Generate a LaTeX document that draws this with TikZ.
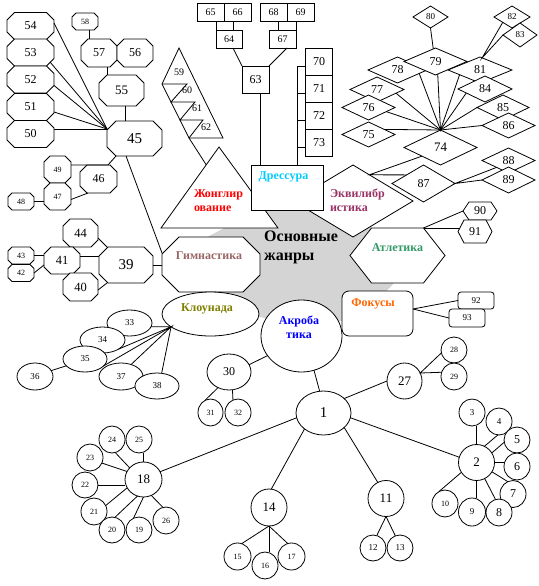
\documentclass[tikz,border=0pt]{standalone}
\usepackage{fontspec}
\setmainfont{Liberation Serif}
\usetikzlibrary{shapes.geometric,calc}
\definecolor{blob}{RGB}{212,212,212}
\definecolor{cJ}{RGB}{255,0,0}
\definecolor{cDr}{RGB}{0,204,255}
\definecolor{cEq}{RGB}{153,51,102}
\definecolor{cAt}{RGB}{51,153,102}
\definecolor{cGym}{RGB}{153,102,102}
\definecolor{cKl}{RGB}{128,128,0}
\definecolor{cAc}{RGB}{0,0,255}
\definecolor{cFo}{RGB}{255,102,0}
\newcommand\fz[1]{\fontsize{#1}{#1}\selectfont}
\tikzset{
  ln/.style={line width=0.8pt},
  shp/.style={draw, fill=white, line width=0.8pt, inner sep=0pt, outer sep=0pt},
  ell/.style={shp, ellipse},
  dia/.style={shp, diamond},
  box/.style={shp, rectangle},
  lbl/.style={inner sep=0pt, outer sep=0pt, font=\bfseries\fontsize{12}{14}\selectfont},
}
% name, x, y, w, h, chamfer, font, text
\newcommand\octo[8]{%
  \filldraw[ln,fill=white] ({#2-#4/2+#6},{#3-#5/2}) -- ({#2+#4/2-#6},{#3-#5/2}) -- ({#2+#4/2},{#3-#5/2+#6}) -- ({#2+#4/2},{#3+#5/2-#6}) -- ({#2+#4/2-#6},{#3+#5/2}) -- ({#2-#4/2+#6},{#3+#5/2}) -- ({#2-#4/2},{#3+#5/2-#6}) -- ({#2-#4/2},{#3-#5/2+#6}) -- cycle;
  \node[inner sep=0pt,outer sep=0pt,minimum width=#4pt,minimum height=#5pt,font=\fz{#7}] (#1) at (#2,#3) {#8};}
\newcommand\hexa[8]{%
  \filldraw[ln,fill=white] ({#2-#4/2},{#3}) -- ({#2-#4/2+#6},{#3-#5/2}) -- ({#2+#4/2-#6},{#3-#5/2}) -- ({#2+#4/2},{#3}) -- ({#2+#4/2-#6},{#3+#5/2}) -- ({#2-#4/2+#6},{#3+#5/2}) -- cycle;
  \node[inner sep=0pt,outer sep=0pt,minimum width=#4pt,minimum height=#5pt,font=\fz{#7}] (#1) at (#2,#3) {#8};}
\newcommand\crc[6]{\node[ell,minimum width=#4pt,minimum height=#5pt,font=\fz{#6}] (n#1) at (#2,#3) {#1};}
\newcommand\dmd[6]{\node[dia,minimum width=#4pt,minimum height=#5pt,font=\fz{#6}] (n#1) at (#2,#3) {#1};}
\newcommand\sqn[6]{\node[box,minimum width=#4pt,minimum height=#5pt,font=\fz{#6}] (n#1) at (#2,#3) {#1};}
\begin{document}
\begin{tikzpicture}[x=1pt,y=-1pt]
\useasboundingbox (0,0) rectangle (538,586);
\fill[white] (0,0) rectangle (538,586);
% gray blob
\fill[blob] (200,241) -- (228,226) -- (262,200) -- (330,200) -- (372,228) -- (400,240) -- (397,280) -- (378,300) -- (350,320) -- (300,325) -- (255,316) -- (205,296) -- (190,280) -- (185,250) -- cycle;

% ---------- main genres
\coordinate (jA) at (219,147); \coordinate (jL) at (161,228); \coordinate (jR) at (278,228);
\filldraw[ln,fill=white] (jA) -- (jL) -- (jR) -- cycle;
\node[dia, minimum width=120pt, minimum height=72pt] (nEq) at (353,201) {};
\node[box, minimum width=72pt, minimum height=45pt] (nDr) at (287,187.5) {};
\hexa{nAt}{397.5}{255.5}{95}{55}{21.5}{12}{}
\octo{nGym}{211}{264.5}{98}{55}{17}{12}{}
\node[ell, minimum width=97pt, minimum height=44pt] (nKl) at (210.5,314) {};
\node[ell, minimum width=81pt, minimum height=72pt] (nAc) at (301.5,336) {};
\node[shp, rounded corners=7pt, minimum width=71pt, minimum height=45pt] (nFo) at (377.5,313.5) {};

\node[lbl, text=cJ, align=left, anchor=west] (tJ) at (194,201) {Жонглир\\ование};
\node[lbl, text=cDr] (tDr) at (283.5,177) {Дрессура};
\node[lbl, text=cEq, align=left, anchor=west] (tEq) at (330,200) {Эквилибр\\истика};
\node[lbl, text=cAt] (tAt) at (397.5,248) {Атлетика};
\node[lbl, text=cGym] (tGym) at (209,256) {Гимнастика};
\node[lbl, text=cKl] (tKl) at (207,309) {Клоунада};
\node[lbl, text=cAc, align=center] (tAc) at (299,327) {Акроба\\тика};
\node[lbl, text=cFo] (tFo) at (373,304) {Фокусы};
\node[inner sep=0pt, font=\bfseries\fontsize{16}{19}\selectfont, align=left, anchor=west] (tMain) at (264,247.5) {Основные\\жанры};

% ---------- octagon cluster 45
\octo{n54}{30.5}{26}{47}{27}{7.5}{12}{54}
\octo{n53}{30.5}{52.5}{47}{27}{7.5}{12}{53}
\octo{n52}{30.5}{79.5}{47}{27}{7.5}{12}{52}
\octo{n51}{30.5}{107}{47}{27}{7.5}{12}{51}
\octo{n50}{30.5}{134}{47}{27}{7.5}{12}{50}
\octo{n58}{85}{21.5}{26}{17}{4}{8}{58}
\octo{n57}{99}{53}{36}{28}{7}{12}{57}
\octo{n56}{135}{53}{36}{28}{7}{12}{56}
\octo{n55}{121.5}{90.5}{45}{31}{8}{13}{55}
\octo{n45}{134.5}{138.5}{55}{35}{9}{15}{45}
\octo{n49}{57.5}{169.5}{27}{27}{6}{8}{49}
\octo{n47}{57.5}{196.5}{27}{27}{6}{8}{47}
\octo{n46}{98.5}{179}{37}{28}{7}{12}{46}
\octo{n48}{21}{201.5}{26}{17}{4}{8}{48}
% octagon cluster 39
\octo{n44}{80.5}{233}{35}{28}{7}{12.5}{44}
\octo{n41}{62}{260.5}{36}{27}{7}{12.5}{41}
\octo{n40}{80.5}{287}{35}{28}{7}{12.5}{40}
\octo{n39}{126}{265}{54}{36}{9}{15}{39}
\octo{n43}{21}{255.5}{26}{17}{4}{8}{43}
\octo{n42}{21}{273}{26}{17}{4}{8}{42}

% ---------- stack 59-62
\coordinate (sA) at (179,48); \coordinate (s1) at (162,84); \coordinate (s2) at (171,102);
\coordinate (s3) at (180,120); \coordinate (s4) at (189,138); \coordinate (sR) at (223,138);
\filldraw[ln,fill=white] (sA) -- (s1) -- (s2) -- (s3) -- (s4) -- (sR) -- cycle;
\draw[ln] (s1) -- (187,84) -- (s2) -- (195,102) -- (s3) -- (203,120) -- (s4);
\node[font=\fz{10}, inner sep=0pt] (n59) at (179,72) {59};
\node[font=\fz{10}, inner sep=0pt] (n60) at (187,90) {60};
\node[font=\fz{10}, inner sep=0pt] (n61) at (197,108) {61};
\node[font=\fz{10}, inner sep=0pt] (n62) at (206,127) {62};

% ---------- rectangles
\sqn{65}{210.5}{12}{27}{18}{10}
\sqn{66}{237.5}{12}{27}{18}{10}
\sqn{68}{273.5}{12}{27}{18}{10}
\sqn{69}{300.5}{12}{27}{18}{10}
\sqn{64}{229}{39}{26}{18}{10}
\sqn{67}{282.5}{39}{27}{18}{10}
\sqn{63}{255.5}{79.5}{27}{27}{12}
\sqn{70}{319}{61.5}{27}{27}{12}
\sqn{71}{319}{88.5}{27}{27}{12}
\sqn{72}{319}{115.5}{27}{27}{12}
\sqn{73}{319}{142.5}{27}{27}{12}

% ---------- diamonds
\dmd{80}{430.5}{17}{35}{22}{9}
\dmd{82}{512}{17}{36}{22}{9}
\dmd{83}{520}{35}{34}{24}{9}
\dmd{78}{397.5}{70}{59}{26}{12}
\dmd{81}{480}{70}{64}{26}{12}
\dmd{79}{435.5}{61.5}{63}{27}{12}
\dmd{77}{377}{89.5}{54}{25}{12}
\dmd{76}{368.5}{107.5}{53}{25}{12}
\dmd{75}{368.5}{134.5}{53}{25}{12}
\dmd{84}{485}{89}{54}{26}{12}
\dmd{85}{503}{107.5}{52}{25}{12}
\dmd{86}{508.5}{125.5}{53}{25}{12}
\dmd{74}{440.5}{147.5}{73}{35}{13}
\dmd{87}{423.5}{183.5}{63}{37}{12}
\dmd{88}{508.5}{160.5}{53}{25}{12}
\dmd{89}{508.5}{180}{53}{26}{12}

% ---------- hexagons & rounded boxes
\hexa{n90}{480}{211}{34}{18}{6}{12}{90}
\hexa{n91}{475}{231.5}{34}{23}{6}{12}{91}
\node[shp, rounded corners=3pt, minimum width=36pt, minimum height=17pt, font=\fz{9}] (n92) at (476,300.5) {92};
\node[shp, rounded corners=3pt, minimum width=36pt, minimum height=18pt, font=\fz{9}] (n93) at (467,318) {93};

% ---------- circles
\crc{33}{129.5}{323}{45}{26}{9}
\crc{34}{102.5}{340}{45}{26}{9}
\crc{35}{85}{359}{44}{26}{9}
\crc{36}{35}{376.5}{36}{27}{9}
\crc{37}{121}{376.5}{44}{27}{9}
\crc{38}{157}{386}{44}{26}{9}
\crc{30}{229}{372}{44}{36}{12}
\crc{31}{210.5}{412.5}{25}{27}{8}
\crc{32}{238}{412.5}{26}{27}{8}
\crc{1}{323.5}{413}{55}{44}{15}
\crc{27}{404.5}{381}{35}{36}{13}
\crc{28}{454}{350}{26}{26}{8}
\crc{29}{454}{376.5}{26}{27}{8}
\crc{2}{476.5}{462.5}{36}{36}{13}
\crc{3}{472}{412.5}{26}{27}{9}
\crc{4}{499}{421.5}{26}{27}{9}
\crc{5}{517}{440}{26}{26}{12}
\crc{6}{517}{466.5}{26}{27}{12}
\crc{7}{513}{494}{26}{27}{12}
\crc{8}{499}{512.5}{26}{27}{12}
\crc{9}{472}{512}{27}{28}{9}
\crc{10}{445}{503.5}{26}{27}{8}
\crc{11}{386}{498.5}{36}{36}{13}
\crc{12}{373}{548}{26}{26}{9}
\crc{13}{400}{548}{26}{26}{9}
\crc{14}{269}{507.5}{36}{37}{13}
\crc{15}{237.5}{556.5}{27}{27}{8}
\crc{16}{265}{565.5}{26}{27}{8}
\crc{17}{291.5}{556.5}{27}{27}{8}
\crc{18}{143.5}{479.5}{37}{35}{13}
\crc{24}{112}{439.5}{26}{27}{8}
\crc{25}{139}{439.5}{26}{27}{8}
\crc{23}{90}{457.5}{26}{27}{8}
\crc{22}{85}{485}{26}{26}{8}
\crc{21}{94}{511.5}{26}{27}{8}
\crc{20}{112}{530}{26}{26}{8}
\crc{19}{139}{530}{26}{26}{8}
\crc{26}{166}{520.5}{26}{27}{8}

% ---------- connectors
\begin{scope}[ln]
\coordinate (p45) at ([yshift=-8pt]n45.north west);
\draw ([yshift=3pt]n54.east) -- (p45);
\draw ([xshift=-4pt,yshift=4pt]n53.south east) -- (p45);
\draw ([yshift=-6pt]n52.east) -- (p45);
\draw ([yshift=-5pt]n51.east) -- (p45);
\draw ([yshift=5pt]n50.east) -- (p45);
\draw ([xshift=4pt]n58.south) -- ([xshift=-10pt]n57.north);
\draw ([xshift=8pt]n57.south) -- ([xshift=-14.5pt]n55.north);
\draw ([xshift=3.5pt]n55.south) -- ([xshift=-9.5pt]n45.north);
\draw ([yshift=4.5pt]n49.east) -- ([xshift=9.5pt]n46.north) -- ([xshift=9pt]n45.south west);
\draw ([yshift=-3pt]n47.east) -- ([xshift=8pt]n46.south west);
\draw (n48.east) -- (n48.east -| n47.west);
\draw ([xshift=-8.5pt]n45.south) -- ([yshift=-16pt]nGym.north west);
\draw (n43.east) -- (n43.east -| n41.west);
\draw (n42.east) -- ([yshift=9pt]n41.south west);
\draw ([yshift=9pt]n44.south east) -- ([xshift=8pt]n39.north west);
\draw ([yshift=4.5pt]n41.east) -- ([yshift=4.5pt]n41.east -| n39.west);
\draw ([yshift=-3pt]n40.east) -- ([xshift=8pt]n39.south west);
\draw (n39.east) -- (n39.east -| nGym.west);
% stack -> juggling
\draw (s4) -- ($(jA)!0.22!(jL)$);
% clownade
\draw (n33.-10) -- (nKl.198) -- (n34.-30);
\draw (n35.-20) -- (nKl.198) -- (n37.50);
\draw (nKl.198) -- (n38.70);
\draw (n35.200) -- (n36.20);
% 30
\draw (n30.235) -- (n31.115);
\draw (n30.-79) -- (n32.112);
\draw (n30.20) -- (nAc.210);
% 1
\draw (n1.100) -- (nAc.-70);
\draw (n1.35) -- (n27.180);
\draw (n28.193) -- (n27.27) -- (n29.161);
\draw (n1.-10) -- (n2.163);
\draw (n1.-35) -- (n11.117);
\draw (n1.220) -- (n14.83);
\draw (n1.190) -- (n18.25);
% 2
\draw (n2.north) -- (n2.north |- n3.south);
\draw (n2.64) -- (n4.265);
\draw (n2.32) -- (n5.190);
\draw (n2.east) -- (n2.east -| n6.west);
\draw (n2.-31) -- (n7.113);
\draw (n2.-63) -- (n8.105);
\draw (n2.south) -- (n2.south |- n9.north);
\draw (n2.213) -- (n10.117);
% 11, 14
\draw (n11.south) -- (n12.73);
\draw (n11.south) -- (n13.111);
\draw (n14.south) -- (n15.72);
\draw (n14.south) -- (n14.south |- n16.north);
\draw (n14.south) -- (n17.106);
% 18
\draw (n18.north) -- (n18.north |- n25.south);
\draw (n24.-76) -- (n18.140);
\draw (n23.-25) -- (n18.154);
\draw (n22.east) -- (n22.east -| n18.west);
\draw (n21.27) -- (n18.207);
\draw (n20.77) -- (n18.250);
\draw (n19.115) -- (n18.south);
\draw (n26.103) -- (n18.-64);
% diamonds
\draw (n75.18) -- (n74.north);
\draw (n76.-13) -- (n74.north);
\draw (n77.-11) -- (n74.north);
\draw (n78.-9) -- (n74.north);
\draw (n79.-80) -- (n74.north);
\draw (n81.193) -- (n74.north);
\draw (n84.192) -- (n74.north);
\draw (n85.west) -- (n74.north);
\draw (n86.west) -- (n74.north);
\fill (n74.north) circle (1.5pt);
\draw (n80.south) -- (n79.100);
\draw (n82.210) -- (n81.80) -- (n83.west);
\draw (n74.205) -- (nEq.58) -- (n87.153);
\draw (n88.210) -- (n87.east) -- (n89.west);
% rectangles
\draw (n64.north west) -- (n64.north west |- n65.south);
\draw ([xshift=4pt]n64.north) -- ([xshift=4pt]n64.north |- n66.south);
\draw ([xshift=-4.5pt]n67.north) -- ([xshift=-4.5pt]n67.north |- n68.south);
\draw (n67.north east) -- (n67.north east |- n69.south);
\draw ([xshift=4pt]n64.south) -- (n63.north west);
\draw ([xshift=4.5pt]n67.south) -- (n63.north east);
\draw ([xshift=4.5pt]n63.south) -- ([xshift=4.5pt]n63.south |- nDr.north);
\coordinate (bx) at (297,0);
\coordinate (t70) at ([yshift=-5pt]n70.west);
\coordinate (t71) at ([yshift=-5pt]n71.west);
\coordinate (t72) at ([yshift=-5pt]n72.west);
\coordinate (t73) at ([yshift=-5pt]n73.west);
\draw (t70 -| bx) -- (bx |- nDr.north);
\draw (t70) -- (t70 -| bx);
\draw (t71) -- (t71 -| bx);
\draw (t72) -- (t72 -| bx);
\draw (t73) -- (t73 -| bx);
% athletics, focus
\draw ([xshift=-21.5pt]nAt.north east) -- (n90.west);
\draw ([xshift=-21.5pt]nAt.north east) -- ([xshift=2pt]nAt.north -| n91.west);
\draw ([yshift=4.5pt]nFo.east) -- (n92.west);
\draw ([yshift=4.5pt]nFo.east) -- (n93.west);
\end{scope}
\end{tikzpicture}
\end{document}
